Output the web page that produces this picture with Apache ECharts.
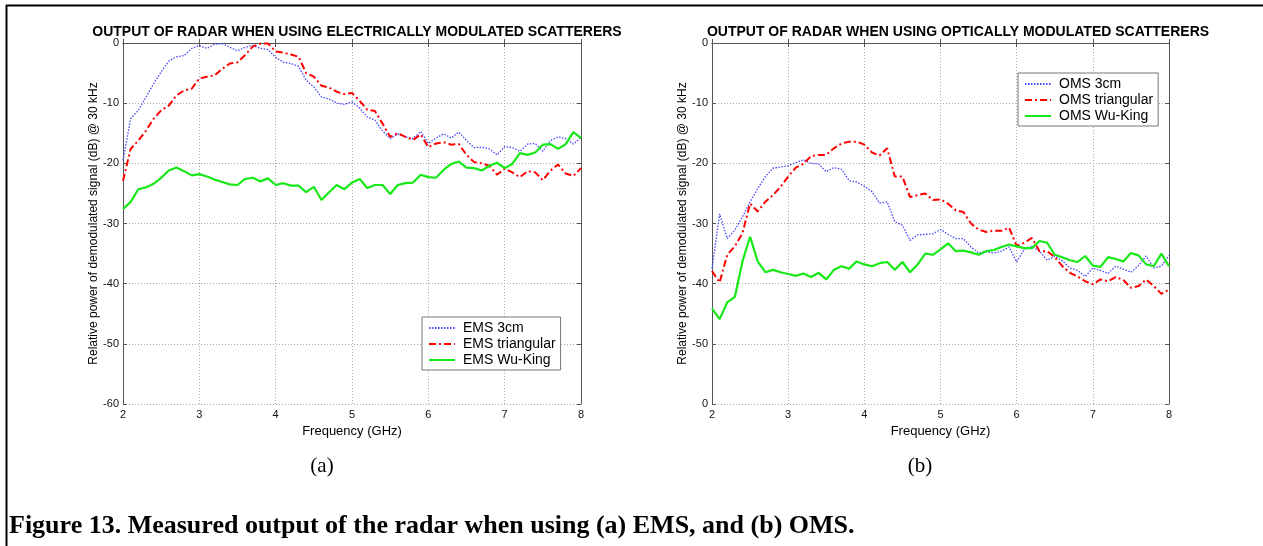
<!DOCTYPE html>
<html>
<head>
    <meta charset="utf-8" />
    <script src="https://cdn.jsdelivr.net/npm/echarts@6/dist/echarts.min.js"></script>
    <style>
        html, body { margin: 0; padding: 0; background: #fff; }
        #main { width: 1263px; height: 546px; }
    </style>
</head>
<body>
    <div id="main"></div>
    <script type="text/javascript">
        // frequency points (GHz)
        var freq = [2.0, 2.1, 2.2, 2.3, 2.4, 2.5, 2.6, 2.7, 2.8, 2.9,
            3.0, 3.1, 3.2, 3.3, 3.4, 3.5, 3.6, 3.7, 3.8, 3.9,
            4.0, 4.1, 4.2, 4.3, 4.4, 4.5, 4.6, 4.7, 4.8, 4.9,
            5.0, 5.1, 5.2, 5.3, 5.4, 5.5, 5.6, 5.7, 5.8, 5.9,
            6.0, 6.1, 6.2, 6.3, 6.4, 6.5, 6.6, 6.7, 6.8, 6.9,
            7.0, 7.1, 7.2, 7.3, 7.4, 7.5, 7.6, 7.7, 7.8, 7.9, 8.0];

        // (a) electrically modulated scatterers
        var ems3cm = [-19.5, -12.6, -11.2, -9.0, -6.8, -4.8, -3.0, -2.3, -2.1, -0.9,
            -0.4, -0.9, -0.2, -0.1, -0.7, -1.3, -0.7, -0.4, -0.9, -1.1,
            -2.4, -3.2, -3.4, -3.9, -6.2, -7.3, -9.0, -9.3, -10.0, -10.2,
            -9.8, -10.8, -12.3, -12.8, -14.6, -15.9, -15.1, -15.6, -15.9, -14.7,
            -16.7, -15.8, -15.1, -15.8, -14.8, -16.2, -17.4, -17.3, -17.6, -18.6,
            -17.2, -17.4, -18.0, -16.8, -16.7, -18.0, -16.2, -15.6, -15.9, -16.8, -15.7];
        var emsTri = [-22.9, -17.6, -16.2, -14.6, -12.6, -11.2, -10.4, -8.7, -7.9, -7.6,
            -5.9, -5.6, -5.4, -4.3, -3.4, -3.2, -2.0, -0.6, -0.1, -0.1,
            -1.4, -1.6, -1.9, -2.3, -5.0, -5.6, -7.1, -7.4, -8.1, -8.5,
            -8.3, -9.6, -11.1, -11.3, -13.4, -15.6, -15.0, -15.6, -16.1, -15.2,
            -17.3, -16.7, -16.5, -16.9, -16.8, -18.6, -19.8, -20.0, -20.4, -21.9,
            -20.9, -21.5, -22.3, -21.3, -21.5, -22.8, -21.2, -20.2, -21.7, -22.1, -20.8];
        var emsWuKing = [-27.6, -26.4, -24.3, -24.0, -23.4, -22.4, -21.2, -20.7, -21.3, -22.0,
            -21.8, -22.2, -22.7, -23.1, -23.5, -23.6, -22.6, -22.4, -23.0, -22.5,
            -23.6, -23.3, -23.7, -23.7, -24.8, -23.9, -26.1, -24.8, -23.6, -24.3,
            -23.2, -22.6, -24.1, -23.6, -23.6, -25.1, -23.6, -23.3, -23.2, -21.9,
            -22.3, -22.4, -21.1, -20.1, -19.7, -20.7, -20.8, -21.2, -20.4, -19.9,
            -20.8, -20.1, -18.3, -18.6, -18.2, -16.9, -16.8, -17.6, -16.8, -14.8, -15.8];

        // (b) optically modulated scatterers
        var oms3cm = [-37.5, -28.4, -32.5, -31.1, -28.9, -26.4, -24.2, -22.2, -20.8, -20.6,
            -20.4, -19.9, -19.4, -20.0, -20.1, -21.4, -20.7, -21.0, -22.9, -23.1,
            -23.8, -24.7, -26.6, -26.4, -29.7, -30.3, -32.8, -31.9, -31.8, -31.7,
            -31.0, -31.8, -32.5, -32.5, -33.9, -34.9, -34.7, -34.9, -34.6, -33.9,
            -36.4, -34.3, -33.8, -34.6, -36.1, -35.4, -36.2, -37.4, -37.8, -38.8,
            -37.4, -37.8, -38.3, -37.1, -37.6, -38.1, -37.0, -35.4, -37.4, -37.1, -35.3];
        var omsTri = [-37.9, -39.8, -35.2, -33.8, -31.6, -26.7, -28.0, -26.4, -25.3, -23.9,
            -22.2, -20.7, -20.1, -18.8, -18.6, -18.6, -17.5, -16.7, -16.4, -16.4,
            -16.9, -18.2, -18.7, -17.5, -22.2, -22.2, -25.6, -25.3, -25.0, -26.1,
            -26.0, -26.7, -27.8, -28.1, -30.0, -31.0, -31.4, -31.2, -31.2, -30.7,
            -33.7, -33.2, -32.4, -34.6, -34.6, -35.6, -37.1, -38.2, -38.8, -39.6,
            -40.1, -39.3, -39.6, -38.9, -39.4, -40.7, -40.4, -39.3, -40.4, -41.7, -41.0];
        var omsWuKing = [-44.1, -45.9, -43.1, -42.2, -36.3, -32.2, -36.3, -38.1, -37.7, -38.1,
            -38.4, -38.7, -38.3, -38.9, -38.2, -39.3, -37.7, -37.1, -37.5, -36.3,
            -36.8, -37.1, -36.6, -36.4, -37.7, -36.4, -38.1, -36.8, -35.0, -35.2,
            -34.3, -33.3, -34.6, -34.5, -34.8, -35.2, -34.6, -34.4, -33.9, -33.5,
            -33.8, -34.1, -34.1, -32.9, -33.2, -35.2, -35.6, -36.1, -36.4, -35.4,
            -37.0, -37.2, -35.6, -35.9, -36.3, -34.9, -35.3, -36.8, -37.1, -35.0, -37.1];

        var titleA = 'OUTPUT OF RADAR WHEN USING ELECTRICALLY MODULATED SCATTERERS';
        var titleB = 'OUTPUT OF RADAR WHEN USING OPTICALLY MODULATED SCATTERERS';
        var yName = 'Relative power of demodulated signal (dB) @ 30 kHz';
        var xName = 'Frequency (GHz)';

        var sans = 'Liberation Sans, Arial, sans-serif';
        var serif = 'Liberation Serif, Times New Roman, serif';

        function pairs(vals) {
            return freq.map(function (f, i) { return [f, vals[i]]; });
        }

        function bottomX(gi) {
            return {
                type: 'value', gridIndex: gi, min: 2, max: 8, interval: 1,
                name: xName, nameLocation: 'middle', nameGap: 16,
                nameTextStyle: { fontFamily: sans, fontSize: 13, color: '#000' },
                axisLine: { lineStyle: { color: '#555', width: 1 } },
                axisTick: { inside: true, length: 4, lineStyle: { color: '#555' } },
                axisLabel: { fontFamily: sans, fontSize: 11, color: '#111', margin: 5 },
                splitLine: { show: true, lineStyle: { color: '#aaa', type: [1, 2] } }
            };
        }
        function topX(gi) {
            return {
                type: 'value', gridIndex: gi, position: 'top', min: 2, max: 8, interval: 1,
                axisLine: { lineStyle: { color: '#555', width: 1 } },
                axisTick: { inside: true, length: 4, lineStyle: { color: '#555' } },
                axisLabel: { show: false },
                splitLine: { show: false }
            };
        }
        function leftY(gi, fmt) {
            return {
                type: 'value', gridIndex: gi, min: -60, max: 0, interval: 10,
                name: yName, nameLocation: 'middle', nameGap: 23,
                nameTextStyle: { fontFamily: sans, fontSize: 12, color: '#000' },
                axisLine: { show: true, lineStyle: { color: '#555', width: 1 } },
                axisTick: { show: true, inside: true, length: 4, lineStyle: { color: '#555' } },
                axisLabel: { fontFamily: sans, fontSize: 11, color: '#111', margin: 4, formatter: fmt },
                splitLine: { show: true, lineStyle: { color: '#aaa', type: [1, 2] } }
            };
        }
        function rightY(gi) {
            return {
                type: 'value', gridIndex: gi, position: 'right', min: -60, max: 0, interval: 10,
                axisLine: { show: true, lineStyle: { color: '#555', width: 1 } },
                axisTick: { show: true, inside: true, length: 4, lineStyle: { color: '#555' } },
                axisLabel: { show: false },
                splitLine: { show: false }
            };
        }

        function lines(prefix, xi, yi, d3, dTri, dWk) {
            return [
                {
                    name: prefix + ' 3cm', type: 'line', xAxisIndex: xi, yAxisIndex: yi,
                    data: pairs(d3), symbol: 'none', color: '#4646ff',
                    lineStyle: { width: 1.3, type: [1.5, 1.5], color: '#4646ff' }
                },
                {
                    name: prefix + ' triangular', type: 'line', xAxisIndex: xi, yAxisIndex: yi,
                    data: pairs(dTri), symbol: 'none', color: '#ff0000',
                    lineStyle: { width: 2, type: [7, 3, 2, 3], color: '#ff0000' }
                },
                {
                    name: prefix + ' Wu-King', type: 'line', xAxisIndex: xi, yAxisIndex: yi,
                    data: pairs(dWk), symbol: 'none', color: '#17e817',
                    lineStyle: { width: 2.2, color: '#17e817' }
                }
            ];
        }

        function legendBox(names, left, top) {
            return {
                data: names, orient: 'vertical', left: left, top: top,
                padding: [4, 5, 3, 6], itemGap: 2, itemWidth: 26, itemHeight: 14,
                borderColor: '#777', borderWidth: 1, backgroundColor: '#fff',
                selectedMode: false,
                itemStyle: { opacity: 0 },
                textStyle: { fontFamily: sans, fontSize: 14, color: '#000', padding: [0, 0, 0, 3] }
            };
        }

        var myChart = echarts.init(document.getElementById('main'));

        var option = {
            backgroundColor: '#fff',
            animation: false,
            title: [
                { text: titleA, left: 352, top: 20, textAlign: 'center',
                  textStyle: { fontFamily: sans, fontSize: 14, fontWeight: 'bold', color: '#000' } },
                { text: titleB, left: 953, top: 20, textAlign: 'center',
                  textStyle: { fontFamily: sans, fontSize: 14, fontWeight: 'bold', color: '#000' } },
                { text: '(a)', left: 317, top: 451, textAlign: 'center',
                  textStyle: { fontFamily: serif, fontSize: 21, fontWeight: 'normal', color: '#000' } },
                { text: '(b)', left: 915, top: 451, textAlign: 'center',
                  textStyle: { fontFamily: serif, fontSize: 21, fontWeight: 'normal', color: '#000' } },
                { text: 'Figure 13. Measured output of the radar when using (a) EMS, and (b) OMS.', left: 4, top: 508,
                  textStyle: { fontFamily: serif, fontSize: 26, fontWeight: 'bold', color: '#000' } }
            ],
            graphic: [
                { type: 'line', shape: { x1: 6, y1: 5.5, x2: 1263, y2: 5.5 }, style: { stroke: '#000', lineWidth: 2 } },
                { type: 'line', shape: { x1: 6.5, y1: 5, x2: 6.5, y2: 546 }, style: { stroke: '#000', lineWidth: 2 } }
            ],
            legend: [
                legendBox(['EMS 3cm', 'EMS triangular', 'EMS Wu-King'], 422, 317),
                legendBox(['OMS 3cm', 'OMS triangular', 'OMS Wu-King'], 1018, 73)
            ],
            grid: [
                { left: 123, top: 43, width: 458, height: 361 },
                { left: 712, top: 43, width: 457, height: 361 }
            ],
            xAxis: [bottomX(0), topX(0), bottomX(1), topX(1)],
            yAxis: [
                leftY(0, '{value}'),
                rightY(0),
                leftY(1, function (v) { return v === -60 ? '0' : String(v); }),
                rightY(1)
            ],
            series: lines('EMS', 0, 0, ems3cm, emsTri, emsWuKing)
                .concat(lines('OMS', 2, 2, oms3cm, omsTri, omsWuKing))
        };

        myChart.setOption(option);
    </script>
</body>
</html>
